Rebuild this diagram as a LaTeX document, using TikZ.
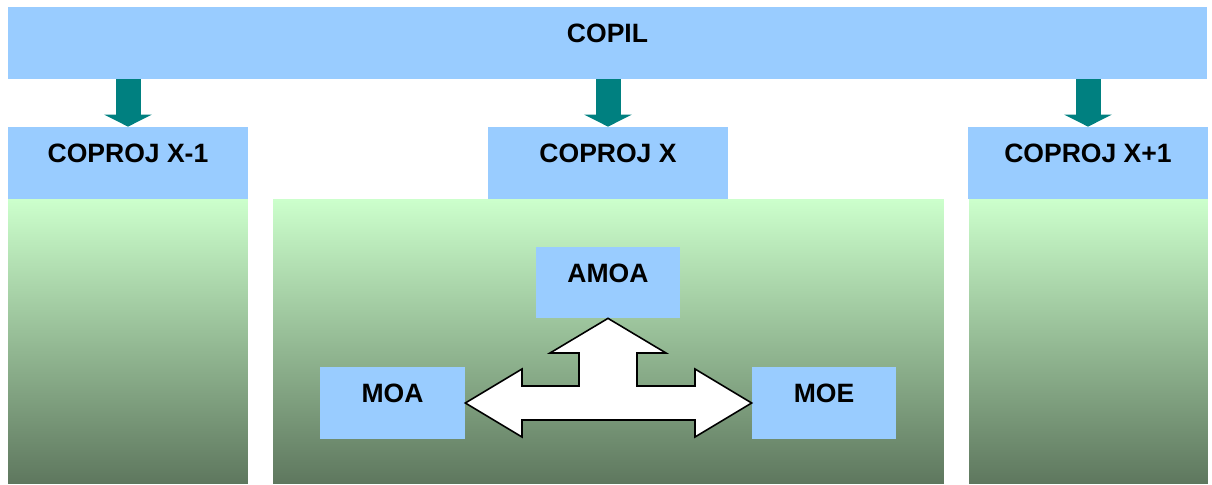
\documentclass[tikz,border=0pt]{standalone}
\usepackage{fontspec}
\setmainfont{Liberation Sans}
\usepackage{tikz}
\usetikzlibrary{arrows.meta,positioning,calc}
\definecolor{boxblue}{HTML}{99CCFF}
\definecolor{arrowteal}{HTML}{008080}
\definecolor{greenlight}{HTML}{CCFFCC}
\definecolor{greenmid}{HTML}{A8D0A8}
\definecolor{greendark}{HTML}{5E775E}
\tikzset{
  bluebox/.style={rectangle,fill=boxblue,inner sep=0pt,
                  font=\fontsize{15.1}{18}\selectfont\bfseries,
                  text height=0.37cm,text depth=0.38cm,
                  minimum height=1.44cm},
  panel/.style={rectangle,inner sep=0pt,minimum height=5.7cm,
                top color=greenlight,middle color=greenmid,bottom color=greendark},
  downarrow/.style={draw=arrowteal,line width=0.5cm,
                    -{Triangle[width=0.94cm,length=0.24cm]}}
}
\begin{document}
\begin{tikzpicture}[x=0.02cm,y=-0.02cm]
  \useasboundingbox (0,0) rectangle (1212,484);
  % Top level
  \node[bluebox,minimum width=23.98cm] (copil) at (607.5,43) {COPIL};
  % Project committees
  \node[bluebox,minimum width=4.8cm] (coprojA) at (128,163) {COPROJ X-1};
  \node[bluebox,minimum width=4.8cm] (coprojB) at (608,163) {COPROJ X};
  \node[bluebox,minimum width=4.8cm] (coprojC) at (1088,163) {COPROJ X+1};
  % Green panels
  \node[panel,minimum width=4.8cm] (panelA) at (128,341.5) {};
  \node[panel,minimum width=13.42cm] (panelB) at (608.5,341.5) {};
  \node[panel,minimum width=4.78cm] (panelC) at (1088.5,341.5) {};
  % Arrows from COPIL
  \foreach \c in {coprojA,coprojB,coprojC}
    \draw[downarrow] (copil.south -| \c.north) -- (\c.north);
  % Roles inside COPROJ X
  \node[bluebox,minimum width=2.88cm,minimum height=1.42cm] (amoa) at (608,282.5) {AMOA};
  \node[bluebox,minimum width=2.9cm] (moa) at (392.5,403) {MOA};
  \node[bluebox,minimum width=2.88cm] (moe) at (824,403) {MOE};
  % Three-way arrow
  \coordinate (hub) at (amoa.south |- moa.east);
  \draw[fill=white,line width=0.9pt,line join=miter]
    (moa.east) -- ($(hub)+(-86,-34)$) -- ($(hub)+(-86,-17)$)
    -- ($(hub)+(-29,-17)$) -- ($(hub)+(-29,-50)$) -- ($(hub)+(-58,-50)$)
    -- (amoa.south) -- ($(hub)+(58,-50)$) -- ($(hub)+(29,-50)$)
    -- ($(hub)+(29,-17)$) -- ($(hub)+(87,-17)$) -- ($(hub)+(87,-34)$)
    -- (moe.west) -- ($(hub)+(87,34)$) -- ($(hub)+(87,17)$)
    -- ($(hub)+(-86,17)$) -- ($(hub)+(-86,34)$) -- cycle;
\end{tikzpicture}
\end{document}
